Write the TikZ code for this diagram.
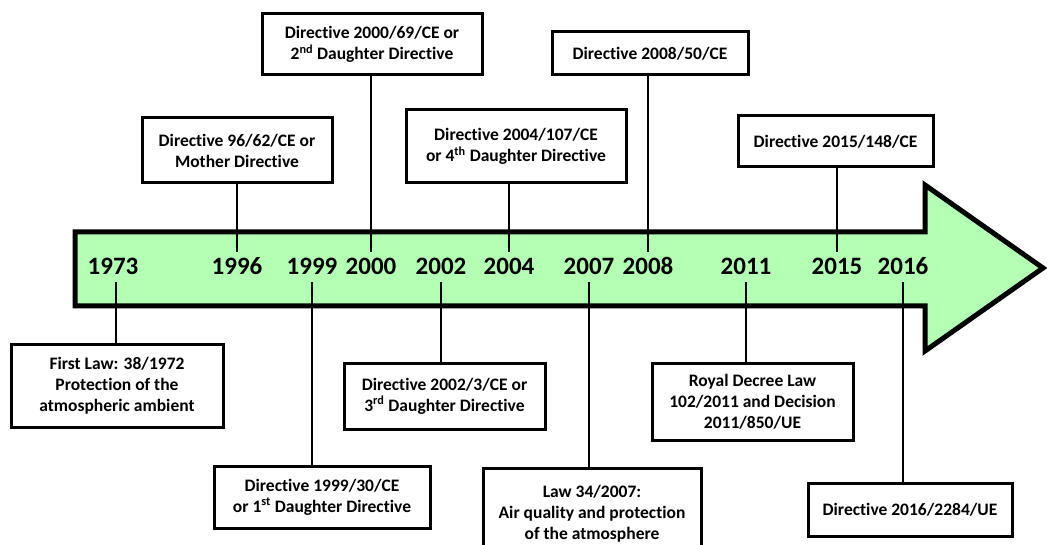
\documentclass[tikz,border=0pt]{standalone}
\usepackage{fontspec}
\setmainfont[Ligatures=NoCommon]{Carlito}
\definecolor{arrowgreen}{RGB}{179,255,179}

\begin{document}
\begin{tikzpicture}[x=1pt,y=-1pt,
  law/.style={draw,line width=3pt,fill=white,align=center,inner sep=0pt,
    font=\fontsize{17.5}{21}\selectfont\bfseries},
  year/.style={inner sep=0pt,text height=16pt,text depth=0pt,minimum height=30pt,
    font=\fontsize{25}{25}\selectfont\bfseries},
  link/.style={line width=2.6pt}]
\clip (0,0) rectangle (1047,545);
% big arrow
\draw[line width=5pt,fill=arrowgreen] (75,232) -- (925,232) -- (925,185) -- (1043,268)
  -- (925,351) -- (925,306) -- (75,306) -- cycle;

% years
\node[year] (y1973) at (113,267) {1973};
\node[year] (y1996) at (237,267) {1996};
\node[year] (y1999) at (312,267) {1999};
\node[year] (y2000) at (371,267) {2000};
\node[year] (y2002) at (441,267) {2002};
\node[year] (y2004) at (509,267) {2004};
\node[year] (y2007) at (589,267) {2007};
\node[year] (y2008) at (648,267) {2008};
\node[year] (y2011) at (746,267) {2011};
\node[year] (y2015) at (837,267) {2015};
\node[year] (y2016) at (903,267) {2016};

% above the arrow
\node[law,minimum width=190,minimum height=65] (b1996) at (237,150.5) {Directive 96/62/CE or\\Mother Directive};
\node[law,minimum width=220,minimum height=61] (b2000) at (372,44.5) {Directive 2000/69/CE or\\2\textsuperscript{nd} Daughter Directive};
\node[law,minimum width=220,minimum height=73] (b2004) at (516,146.5) {Directive 2004/107/CE\\or 4\textsuperscript{th} Daughter Directive};
\node[law,minimum width=196,minimum height=43] (b2008) at (650,53.5) {Directive 2008/50/CE};
\node[law,minimum width=195,minimum height=51] (b2015) at (835.5,141.5) {Directive 2015/148/CE};

% below the arrow
\node[law,minimum width=212,minimum height=82] (b1973) at (117,386) {First Law: 38/1972\\Protection of the\\atmospheric ambient};
\node[law,minimum width=216,minimum height=62] (b1999) at (322,497) {Directive 1999/30/CE\\or 1\textsuperscript{st} Daughter Directive};
\node[law,minimum width=201,minimum height=66] (b2002) at (444.5,396) {Directive 2002/3/CE or\\3\textsuperscript{rd} Daughter Directive};
\node[law,minimum width=218,minimum height=92] (b2007) at (592,514) {Law 34/2007:\\Air quality and protection\\of the atmosphere};
\node[law,minimum width=201,minimum height=77] (b2011) at (752.5,401.5) {Royal Decree Law\\102/2011 and Decision\\2011/850/UE};
\node[law,minimum width=204,minimum height=53] (b2016) at (910,509.5) {Directive 2016/2284/UE};

% connectors
\draw[link] (y1996.north) -- (y1996.north |- b1996.south);
\draw[link] (y2000.north) -- (y2000.north |- b2000.south);
\draw[link] (y2004.north) -- (y2004.north |- b2004.south);
\draw[link] (y2008.north) -- (y2008.north |- b2008.south);
\draw[link] (y2015.north) -- (y2015.north |- b2015.south);
\draw[link] ([xshift=3pt]y1973.south) -- ([xshift=3pt]y1973.south |- b1973.north);
\draw[link] (y1999.south) -- (y1999.south |- b1999.north);
\draw[link] (y2002.south) -- (y2002.south |- b2002.north);
\draw[link] (y2007.south) -- (y2007.south |- b2007.north);
\draw[link] (y2011.south) -- (y2011.south |- b2011.north);
\draw[link] (y2016.south) -- (y2016.south |- b2016.north);
\end{tikzpicture}
\end{document}
